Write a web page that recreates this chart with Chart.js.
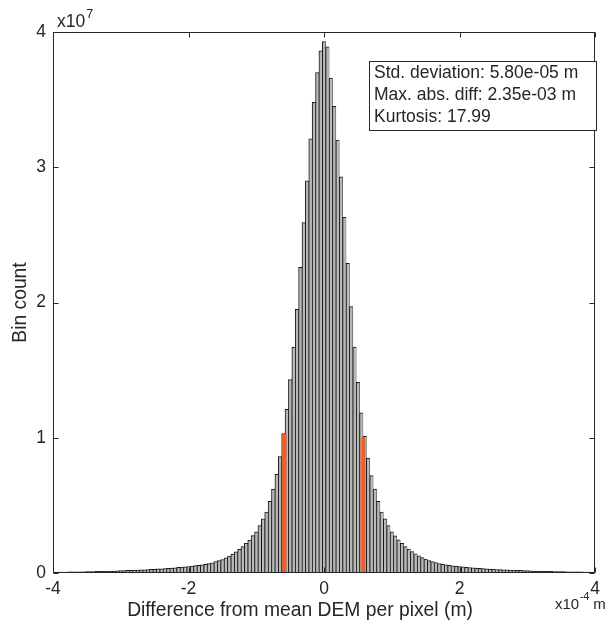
<!DOCTYPE html>
<html>
<head>
<meta charset="utf-8">
<title>DEM difference histogram</title>
<script src="https://cdn.jsdelivr.net/npm/chart.js@4.4.1/dist/chart.umd.min.js"></script>
<style>
  html, body { margin: 0; padding: 0; background: #fff; }
  canvas { display: block; }
</style>
</head>
<body>
<canvas id="histChart" width="612" height="622"></canvas>
<script>
// bins are centred every binWidth metres, starting at firstBinCentre
const firstBinCentre = -3.95e-4;
const binWidth = 5e-6;

// pixel counts per bin, in units of 1e7
const binCounts = [
  0.006, 0.007, 0.007, 0.007, 0.008, 0.008, 0.009, 0.009, 0.009, 0.010,
  0.010, 0.011, 0.012, 0.012, 0.013, 0.013, 0.014, 0.015, 0.016, 0.017,
  0.018, 0.019, 0.020, 0.021, 0.022, 0.023, 0.024, 0.026, 0.027, 0.028,
  0.030, 0.031, 0.033, 0.035, 0.037, 0.039, 0.041, 0.043, 0.046, 0.048,
  0.051, 0.054, 0.057, 0.060, 0.064, 0.069, 0.076, 0.084, 0.091, 0.100,
  0.113, 0.126, 0.140, 0.157, 0.175, 0.195, 0.220, 0.244, 0.276, 0.305,
  0.350, 0.400, 0.450, 0.530, 0.620, 0.730, 0.860, 1.030, 1.210, 1.430,
  1.670, 1.950, 2.260, 2.590, 2.900, 3.210, 3.480, 3.700, 3.860,
  3.930,
  3.890, 3.660, 3.450, 3.200, 2.930, 2.630, 2.290, 1.970, 1.670, 1.410,
  1.185, 1.010, 0.850, 0.720, 0.620, 0.530, 0.450, 0.400, 0.350, 0.305,
  0.275, 0.245, 0.220, 0.196, 0.176, 0.158, 0.141, 0.127, 0.114, 0.102,
  0.092, 0.084, 0.077, 0.070, 0.064, 0.060, 0.056, 0.053, 0.050, 0.047,
  0.045, 0.042, 0.040, 0.038, 0.036, 0.034, 0.032, 0.031, 0.029, 0.028,
  0.026, 0.025, 0.024, 0.023, 0.022, 0.021, 0.020, 0.019, 0.018, 0.017,
  0.016, 0.015, 0.014, 0.014, 0.013, 0.012, 0.012, 0.011, 0.011, 0.010,
  0.010, 0.009, 0.009, 0.008, 0.008, 0.008, 0.007, 0.007, 0.007
];

// summary statistics (metres)
const stdDev = 5.80e-5;
const maxAbsDiff = 2.35e-3;
const kurtosis = 17.99;
// height (units of 1e7) where the -std / +std markers end
const stdMarkerHeights = [1.03, 1.00];

const xTickValues = [-4e-4, -2e-4, 0, 2e-4, 4e-4];
const yTickValues = [0, 1, 2, 3, 4];
const xExponent = -4;
const yExponent = 7;

const axisColor = '#262626';
const fontFamily = '"Liberation Sans", Arial, Helvetica, sans-serif';
const tickFontSize = 17.5;
const labelFontSize = 19.3;

const countScale = Math.pow(10, yExponent);
const xScaleUnit = Math.pow(10, xExponent);

const histPoints = binCounts.map((c, i) => ({ x: firstBinCentre + i * binWidth, y: c * countScale }));

function expo(v) {
  // 5.8e-5 -> "5.80e-05"
  const [m, e] = v.toExponential(2).split('e');
  const n = parseInt(e, 10);
  return m + 'e' + (n < 0 ? '-' : '+') + String(Math.abs(n)).padStart(2, '0');
}

const statLines = [
  'Std. deviation: ' + expo(stdDev) + ' m',
  'Max. abs. diff: ' + expo(maxAbsDiff) + ' m',
  'Kurtosis: ' + kurtosis.toFixed(2)
];

// axes box, inward ticks, exponent labels, x label and the stats box
const matlabFrame = {
  id: 'matlabFrame',
  afterDraw(chart) {
    const { ctx, chartArea: a, scales: { x, y } } = chart;
    const L = Math.round(a.left) + 0.5, R = Math.round(a.right) - 0.5;
    const T = Math.round(a.top) + 0.5, B = Math.round(a.bottom) - 0.5;
    const tick = 5;
    ctx.save();
    ctx.strokeStyle = axisColor;
    ctx.lineWidth = 1;
    ctx.strokeRect(L, T, R - L, B - T);
    ctx.beginPath();
    xTickValues.forEach(v => {
      const px = Math.round(x.getPixelForValue(v)) + 0.5;
      ctx.moveTo(px, B); ctx.lineTo(px, B - tick);
      ctx.moveTo(px, T); ctx.lineTo(px, T + tick);
    });
    yTickValues.forEach(v => {
      const py = Math.round(y.getPixelForValue(v * countScale)) + 0.5;
      ctx.moveTo(L, py); ctx.lineTo(L + tick, py);
      ctx.moveTo(R, py); ctx.lineTo(R - tick, py);
    });
    ctx.stroke();

    ctx.fillStyle = axisColor;
    ctx.textBaseline = 'alphabetic';
    ctx.textAlign = 'left';

    // y exponent, top left
    ctx.font = tickFontSize + 'px ' + fontFamily;
    ctx.fillText('x10', a.left + 4, 27);
    let w = ctx.measureText('x10').width;
    ctx.font = '12.5px ' + fontFamily;
    ctx.fillText(String(yExponent), a.left + 4 + w + 1, 18);

    // x exponent, bottom right
    const ex = 555;
    ctx.font = '15px ' + fontFamily;
    ctx.fillText('x10', ex, 609);
    w = ctx.measureText('x10').width;
    ctx.font = '11px ' + fontFamily;
    ctx.fillText(String(xExponent), ex + w + 0.5, 600);
    const w2 = ctx.measureText(String(xExponent)).width;
    ctx.font = '15px ' + fontFamily;
    ctx.fillText(' m', ex + w + w2, 609);

    // x axis label
    ctx.textAlign = 'center';
    ctx.font = labelFontSize + 'px ' + fontFamily;
    ctx.fillText('Difference from mean DEM per pixel (m)', 300, 616);

    // stats box
    const bx = 369.5, by = 61.5, bw = 227, bh = 69;
    ctx.fillStyle = '#ffffff';
    ctx.fillRect(bx, by, bw, bh);
    ctx.strokeRect(bx, by, bw, bh);
    ctx.fillStyle = axisColor;
    ctx.textAlign = 'left';
    ctx.textBaseline = 'middle';
    ctx.font = tickFontSize + 'px ' + fontFamily;
    statLines.forEach((t, i) => ctx.fillText(t, 374, 73 + i * 22));
    ctx.restore();
  }
};

new Chart(document.getElementById('histChart'), {
  type: 'bar',
  data: {
    datasets: [
      {
        type: 'line',
        data: [{ x: -stdDev, y: 0 }, { x: -stdDev, y: stdMarkerHeights[0] * countScale }],
        borderColor: '#fa5a1e',
        borderWidth: 4,
        pointRadius: 0,
        order: 0
      },
      {
        type: 'line',
        data: [{ x: stdDev, y: 0 }, { x: stdDev, y: stdMarkerHeights[1] * countScale }],
        borderColor: '#fa5a1e',
        borderWidth: 4,
        pointRadius: 0,
        order: 0
      },
      {
        label: 'Bin count',
        data: histPoints,
        backgroundColor: '#b9b9b9',
        borderColor: '#161616',
        borderWidth: { top: 1, left: 1, right: 0.5, bottom: 0 },
        borderSkipped: false,
        barPercentage: 1,
        categoryPercentage: 1,
        order: 1
      },
      {
        type: 'line',
        data: [{ x: -maxAbsDiff, y: 0 }, { x: maxAbsDiff, y: 0 }],
        borderColor: '#0072bd',
        borderWidth: 2,
        pointRadius: 0,
        order: 2
      }
    ]
  },
  options: {
    responsive: false,
    animation: false,
    events: [],
    layout: { padding: { top: 32, right: 17, left: 0, bottom: 0 } },
    plugins: { legend: { display: false }, tooltip: { enabled: false } },
    scales: {
      x: {
        type: 'linear',
        min: xTickValues[0],
        max: xTickValues[xTickValues.length - 1],
        offset: false,
        afterBuildTicks: s => { s.ticks = xTickValues.map(v => ({ value: v })); },
        afterFit: s => { s.height = 49; },
        grid: { display: false, drawTicks: false },
        border: { display: false },
        ticks: {
          padding: 6,
          color: axisColor,
          maxRotation: 0,
          autoSkip: false,
          font: { family: fontFamily, size: tickFontSize },
          callback: v => String(Math.round(v / xScaleUnit))
        }
      },
      y: {
        min: 0,
        max: yTickValues[yTickValues.length - 1] * countScale,
        afterBuildTicks: s => { s.ticks = yTickValues.map(v => ({ value: v * countScale })); },
        afterFit: s => { s.width = 53; },
        grid: { display: false, drawTicks: false },
        border: { display: false },
        ticks: {
          padding: 7,
          color: axisColor,
          font: { family: fontFamily, size: tickFontSize },
          callback: v => String(Math.round(v / countScale))
        },
        title: {
          display: true,
          text: 'Bin count',
          color: axisColor,
          font: { family: fontFamily, size: labelFontSize },
          padding: { top: 9, bottom: 0 }
        }
      }
    }
  },
  plugins: [matlabFrame]
});
</script>
</body>
</html>
